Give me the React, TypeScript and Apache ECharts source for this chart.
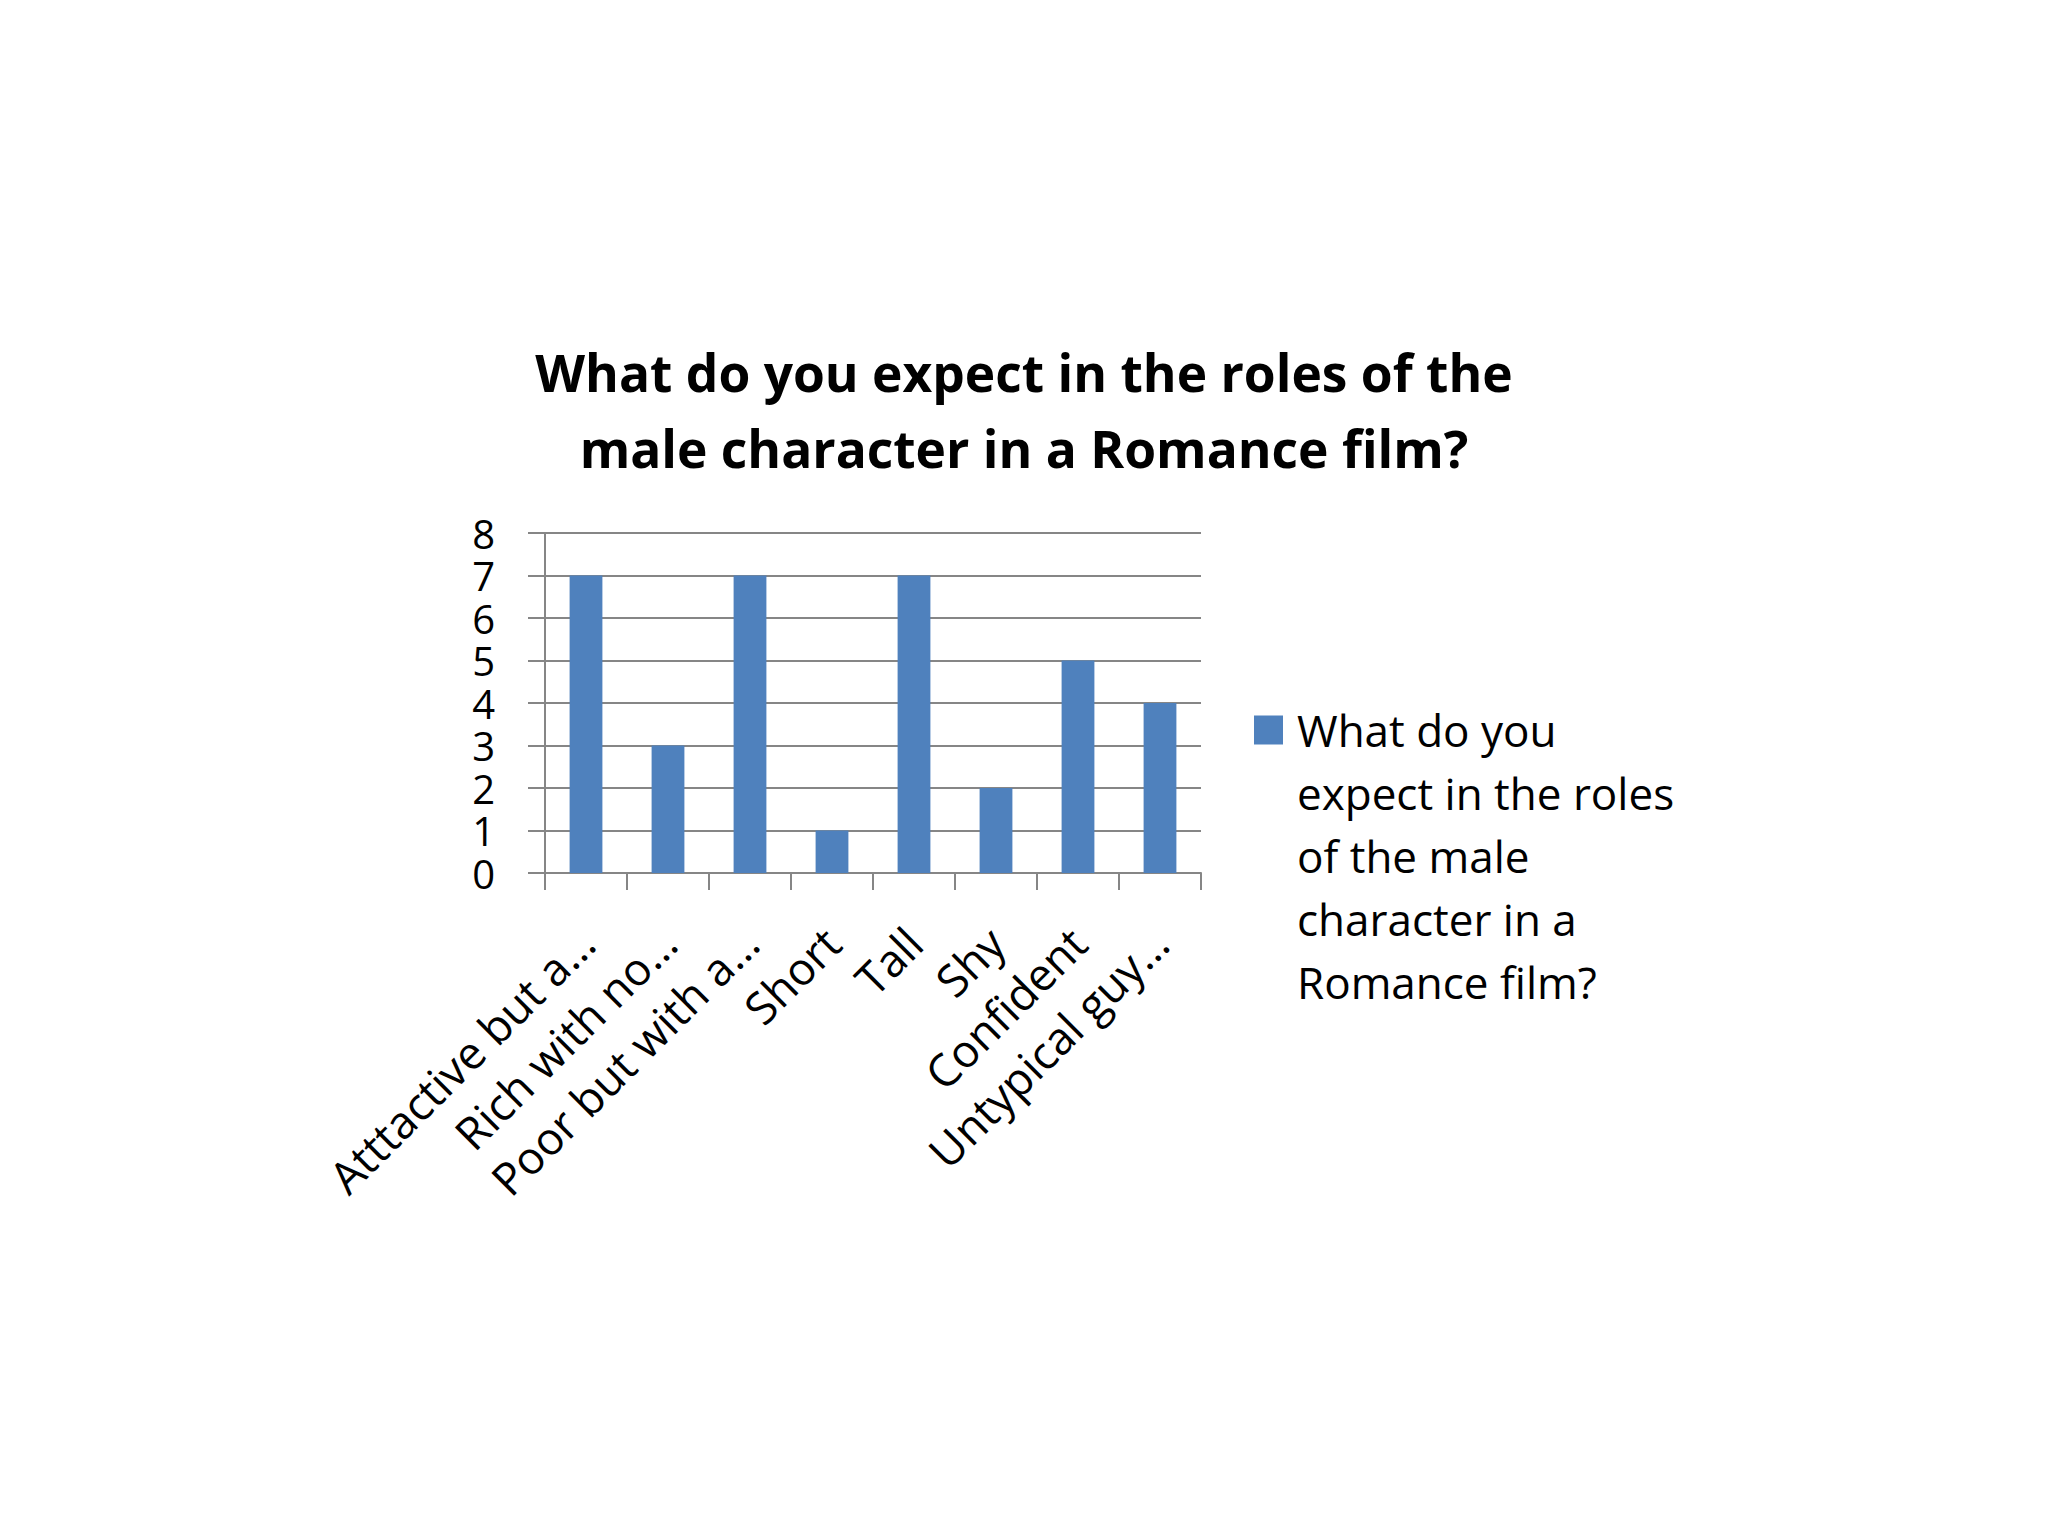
import React, { useEffect, useRef } from 'react';
import * as echarts from 'echarts';

const categories = [
  'Atttactive but a…',
  'Rich with no…',
  'Poor but with a…',
  'Short',
  'Tall',
  'Shy',
  'Confident',
  'Untypical guy…',
];
const values = [7, 3, 7, 1, 7, 2, 5, 4];
const seriesName = 'What do you expect in the roles of the male character in a Romance film?';
const legendLines = ['What do you', 'expect in the roles', 'of the male', 'character in a', 'Romance film?'];
const titleLines = ['What do you expect in the roles of the', 'male character in a Romance film?'];

const FONT = 'Open Sans';
const GRAY = '#868686';
const LEGEND_LH = 63;

export default function App() {
  const chartRef = useRef<HTMLDivElement>(null);

  useEffect(() => {
    if (!chartRef.current) return;
    const chart = echarts.init(chartRef.current, null, { renderer: 'svg' });

    // legend text is centred on the square, so pad with empty lines above
    // to keep the square beside the first line
    const blankLines = legendLines.length - 1;
    const blockH = (legendLines.length + blankLines) * LEGEND_LH;
    const iconCenter = 730;

    chart.setOption({
      animation: false,
      backgroundColor: '#ffffff',
      textStyle: { fontFamily: FONT },
      title: {
        text: titleLines.join('\n'),
        left: 'center',
        top: 329,
        textStyle: { fontFamily: FONT, fontSize: 51.5, fontWeight: 'bold', color: '#000', lineHeight: 76 },
      },
      grid: { left: 545, right: 847, top: 533, bottom: 663, containLabel: false },
      legend: {
        left: 1254,
        top: iconCenter - blockH / 2,
        padding: 0,
        itemWidth: 29,
        itemHeight: 29,
        icon: 'rect',
        data: [seriesName],
        formatter: () => '\n'.repeat(blankLines) + legendLines.join('\n'),
        textStyle: {
          fontFamily: FONT,
          fontSize: 44,
          color: '#000',
          lineHeight: LEGEND_LH,
          padding: [0, 0, 0, 9],
        },
      },
      xAxis: {
        type: 'category',
        data: categories,
        axisLine: { lineStyle: { color: GRAY, width: 2 } },
        axisTick: { show: true, length: 17, lineStyle: { color: GRAY, width: 2 } },
        axisLabel: {
          interval: 0,
          rotate: 45,
          fontSize: 45,
          color: '#000',
          margin: 62,
          fontFamily: FONT,
        },
      },
      yAxis: {
        type: 'value',
        min: 0,
        max: 8,
        interval: 1,
        axisLine: { show: true, lineStyle: { color: GRAY, width: 2 } },
        axisTick: { show: true, length: 17, lineStyle: { color: GRAY, width: 2 } },
        axisLabel: { fontSize: 40, lineHeight: 40, color: '#000', margin: 50, fontFamily: FONT },
        splitLine: { lineStyle: { color: GRAY, width: 2 } },
      },
      series: [
        {
          name: seriesName,
          type: 'bar',
          data: values,
          barWidth: '40%',
          itemStyle: { color: '#4F81BD' },
        },
      ],
    });

    return () => chart.dispose();
  }, []);

  return <div ref={chartRef} style={{ position: 'fixed', left: 0, top: 0, width: '2048px', height: '1536px' }} />;
}
